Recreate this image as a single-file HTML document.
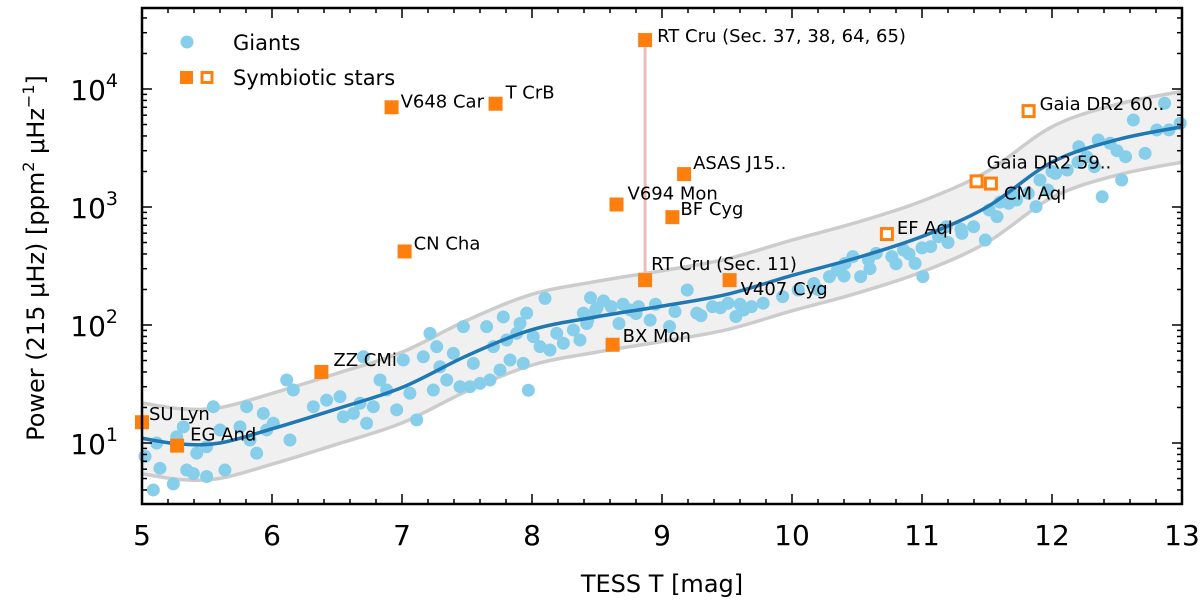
<!DOCTYPE html>
<html><head><meta charset="utf-8"><style>
html,body{margin:0;padding:0;background:#fff;}
svg{display:block;font-family:"DejaVu Sans","Liberation Sans",sans-serif;}
</style></head><body>
<svg id="chart" width="1200" height="613" viewBox="0 0 1200 613" xmlns="http://www.w3.org/2000/svg">
<g id="band"></g>
<g id="giants"></g>
<g id="trend"></g>
<g id="sym"></g>
<g id="axes"></g>
<g>
  <circle cx="187" cy="42" r="6.5" fill="#87ceeb"/>
  <text x="233" y="50" font-size="21">Giants</text>
  <rect x="180" y="71" width="13" height="13" fill="#ff7f0e"/>
  <rect x="202" y="72.5" width="10" height="10" fill="#fff" stroke="#ff7f0e" stroke-width="3"/>
  <text x="233" y="85" font-size="21">Symbiotic stars</text>
</g>
<text x="662" y="592" font-size="24" text-anchor="middle">TESS T [mag]</text>
<text transform="translate(44,258) rotate(-90)" font-size="24" text-anchor="middle">Power (215 μHz) [ppm<tspan font-size="16" dy="-10">2</tspan><tspan dy="10"> μHz</tspan><tspan font-size="16" dy="-10">−1</tspan><tspan dy="10">]</tspan></text>
</svg>
<script>
const giantMag=[5.023,5.087,5.138,5.113,5.241,5.267,5.318,5.344,5.395,5.497,5.421,5.497,5.549,5.638,5.6,5.754,5.805,5.831,5.882,5.933,5.959,6.01,6.113,6.138,6.164,6.318,6.42,6.523,6.549,6.626,6.677,6.728,6.779,6.882,6.959,7.113,7.01,6.831,6.703,7.061,7.164,7.215,7.267,7.241,7.292,7.344,7.395,7.446,7.472,7.523,7.549,7.6,7.651,7.677,7.703,7.754,7.779,7.805,7.831,7.882,7.908,7.933,7.959,7.972,8.01,8.062,8.1,8.138,8.19,8.241,8.318,8.369,8.395,8.421,8.429,8.489,8.609,8.669,8.759,8.819,8.909,9.058,9.194,9.268,9.388,9.508,9.568,9.628,9.688,9.778,9.928,10.048,10.168,10.288,10.348,10.408,10.468,10.528,10.588,10.648,10.768,10.858,10.947,11.007,11.067,11.127,11.187,11.307,11.397,11.487,11.517,11.577,11.667,11.727,11.817,11.877,11.907,11.967,12.027,12.117,12.206,12.266,12.326,12.386,12.356,12.446,12.536,12.566,12.626,12.716,12.806,12.866,12.986,8.5,8.55,8.45,8.7,8.8,8.95,9.1,9.3,9.45,9.6,10.2,10.4,10.6,10.8,10.9,11.0,11.2,11.3,11.6,11.7,12.0,12.2,12.5,12.9];
const giantPower=[7.7,4.0,6.1,10,4.5,11.3,13.7,5.9,5.5,5.2,8.2,9.3,20.3,5.9,12.9,13.7,20.3,10.6,8.2,17.8,12.9,14.7,34.2,10.6,28.1,20.3,23.1,24.7,16.7,17.8,21.7,14.7,20.3,28.1,19.1,15.7,50.5,34.2,53.8,26.4,53.8,84.9,65.5,28.1,44.3,34.2,57.5,30,96.8,30,47.3,32,96.8,34.2,65.5,41.6,117,74.6,50.5,85,103,47.3,126,28,79.6,65.5,168,61.4,85,70,90.8,74.6,126,103,110,134,143,103,134,143,110,97,198,126,143,153,118,134,143,153,174,198,225,257,292,333,380,257,356,405,380,432,333,257,462,560,681,598,681,525,944,828,1075,1146,1306,1007,1694,1393,1928,2058,3243,2668,2196,1222,3698,3466,1694,2668,5458,2849,4498,7568,5115,140,160,170,150,125,150,130,120,140,150,200,260,300,330,400,450,500,650,1100,1300,2000,2400,3000,4500];
const trendMag=[5,5.3,5.6,6,6.5,7,7.5,8,8.5,9,9.5,10,10.5,11,11.5,12,12.5,13];
const trendLog=[1.04,0.99,1.0,1.12,1.29,1.47,1.74,1.96,2.07,2.16,2.26,2.42,2.57,2.75,3.0,3.38,3.57,3.68];
const bandHalfWidth=0.3;
const symNames=["SU Lyn","EG And","ZZ CMi","V648 Car","CN Cha","T CrB","V694 Mon","BX Mon","RT Cru (Sec. 11)","RT Cru (Sec. 37, 38, 64, 65)","BF Cyg","ASAS J15..","V407 Cyg","EF Aql","Gaia DR2 59..","CM Aql","Gaia DR2 60.."];
const symMag=[5.0,5.27,6.38,6.92,7.02,7.72,8.65,8.62,8.87,8.87,9.08,9.17,9.52,10.73,11.42,11.53,11.82];
const symPower=[15,9.5,40,7000,420,7500,1050,68,240,26000,820,1900,240,590,1650,1580,6500];
const symOpen=[0,0,0,0,0,0,0,0,0,0,0,0,0,1,1,1,1];
const labOff=[[7,-2],[13,-5],[12,-6],[9,0],[9,-2],[10,-5],[11,-5],[10,-3],[6,-10],[12,2],[8,-2],[9,-5],[11,15],[10,0],[10,-13],[13,16],[11,-1]];
const xTicks=[5,6,7,8,9,10,11,12,13];
const yTickExp=[1,2,3,4];

const NS="http://www.w3.org/2000/svg";
const X0=142,X1=1182,Y0=8,Y1=504;
const xs=m=>X0+(m-5)*(X1-X0)/8;
const ys=p=>443-(Math.log10(p)-1)*118;
const yl=l=>443-(l-1)*118;
function mk(tag,attrs,parent){const e=document.createElementNS(NS,tag);for(const k in attrs)e.setAttribute(k,attrs[k]);parent.appendChild(e);return e;}
function smooth(px,py){let d="M"+px[0]+","+py[0];for(let i=0;i<px.length-1;i++){const x0=px[i-1]??px[i],y0=py[i-1]??py[i],x3=px[i+2]??px[i+1],y3=py[i+2]??py[i+1];d+=" C"+(px[i]+(px[i+1]-x0)/6)+","+(py[i]+(py[i+1]-y0)/6)+" "+(px[i+1]-(x3-px[i])/6)+","+(py[i+1]-(y3-py[i])/6)+" "+px[i+1]+","+py[i+1];}return d;}

const band=document.getElementById('band');
const tx=trendMag.map(xs);
const up=trendLog.map(l=>yl(l+bandHalfWidth)), lo=trendLog.map(l=>yl(l-bandHalfWidth));
const upD=smooth(tx,up);
const loRev=smooth(tx.slice().reverse(),lo.slice().reverse());
const fill=mk('path',{d:upD+" L"+loRev.slice(1)+" Z",fill:"#f0f0f0",stroke:"none"},band);


const bu=mk('path',{d:upD,fill:"none",stroke:"#cccccc","stroke-width":3.5},band);


const bl=mk('path',{d:smooth(tx,lo),fill:"none",stroke:"#cccccc","stroke-width":3.5},band);



const gg=document.getElementById('giants');
giantMag.forEach((m,i)=>{const c=mk('circle',{cx:xs(m),cy:ys(giantPower[i]),r:6.5,fill:"#87ceeb"},gg);

});

const tr=mk('path',{d:smooth(tx,trendLog.map(yl)),fill:"none",stroke:"#1f77b4","stroke-width":3.5},document.getElementById('trend'));



const sg=document.getElementById('sym');
const iLow=symNames.indexOf("RT Cru (Sec. 11)"),iHigh=symNames.indexOf("RT Cru (Sec. 37, 38, 64, 65)");
const link=mk('line',{x1:xs(symMag[iLow]),y1:ys(symPower[iLow]),x2:xs(symMag[iHigh]),y2:ys(symPower[iHigh]),stroke:"#eebbbb","stroke-width":3},sg);


symMag.forEach((m,i)=>{const x=xs(m),y=ys(symPower[i]);let r;
 if(symOpen[i]) r=mk('rect',{x:x-5.5,y:y-5.5,width:11,height:11,fill:"#fff",stroke:"#ff7f0e","stroke-width":3},sg);
 else r=mk('rect',{x:x-7,y:y-7,width:14,height:14,fill:"#ff7f0e"},sg);
 
 
 const t=mk('text',{x:x+labOff[i][0],y:y+labOff[i][1],"font-size":18},sg);t.textContent=symNames[i];
 
 });

const ax=document.getElementById('axes');
const fr=mk('rect',{x:X0,y:Y0,width:X1-X0,height:Y1-Y0,fill:"none",stroke:"#000","stroke-width":2.5},ax);


for(let m=5;m<=13.001;m+=0.2){const x=xs(m),maj=Math.abs(m-Math.round(m))<0.01,L=maj?10:5;
 mk('line',{x1:x,y1:Y1,x2:x,y2:Y1-L,stroke:"#000","stroke-width":1.5},ax);
 mk('line',{x1:x,y1:Y0,x2:x,y2:Y0+L,stroke:"#000","stroke-width":1.5},ax);}
xTicks.forEach(v=>{const t=mk('text',{x:xs(v),y:545,"font-size":28,"text-anchor":"middle"},ax);t.textContent=v;
 
 });
for(let d=0;d<=4;d++)for(let k=1;k<=9;k++){const p=k*Math.pow(10,d),y=ys(p);if(y<Y0||y>Y1)continue;const L=k==1?10:5;
 mk('line',{x1:X0,y1:y,x2:X0+L,y2:y,stroke:"#000","stroke-width":1.5},ax);
 mk('line',{x1:X1,y1:y,x2:X1-L,y2:y,stroke:"#000","stroke-width":1.5},ax);}
yTickExp.forEach(e=>{const t=mk('text',{x:118,y:ys(Math.pow(10,e))+11,"font-size":28,"text-anchor":"end"},ax);
 t.textContent="10";const s=mk('tspan',{"font-size":19,dy:-13},t);s.textContent=e;
 
 });
</script>
</body></html>
